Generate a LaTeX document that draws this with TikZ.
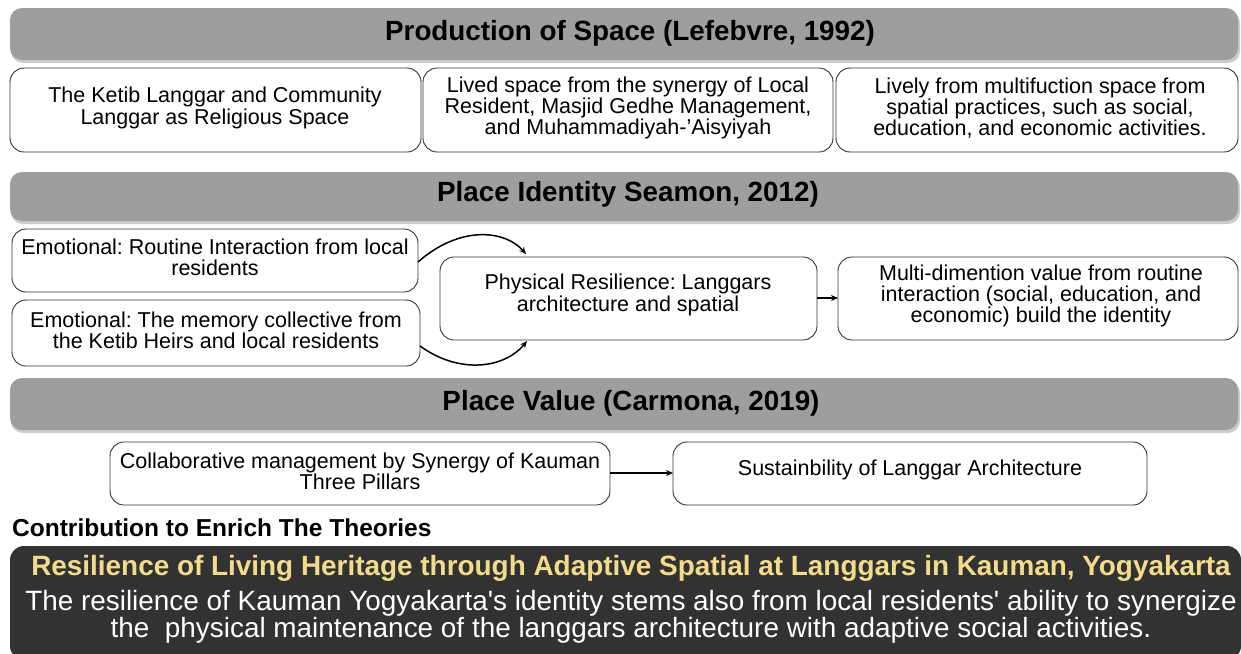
\documentclass[tikz,border=0pt]{standalone}
\usepackage{fontspec}
\setmainfont{Liberation Sans}[Ligatures=TeXOff]
\usetikzlibrary{arrows.meta}
\definecolor{banner}{HTML}{9E9E9E}
\definecolor{darkbox}{HTML}{323232}
\definecolor{yel}{HTML}{F2DC8C}
\begin{document}
\begin{tikzpicture}[x=1pt,y=-1pt,
  bannerbox/.style={fill=banner,draw=none,rounded corners=12pt},
  wbox/.style={draw=black!80,line width=0.9pt,fill=white,rounded corners=14pt},
  bannertext/.style={font=\fontsize{27.8}{28}\selectfont\bfseries\frenchspacing,text=black},
  bodytext/.style={font=\fontsize{21.5}{21.3}\selectfont\frenchspacing,align=center,text=black},
  conn/.style={-{Stealth[length=7pt,width=6pt]},line width=1.3pt,black}]
\useasboundingbox (0,0) rectangle (1241,653);
% banners
\fill[black!20,rounded corners=12pt] (11,11) rectangle (1240,63);
\path[bannerbox] (10,8) rectangle (1238,60);
\node[bannertext] (t1) at (630,33) {Production of Space (Lefebvre, 1992)};
\fill[black!20,rounded corners=12pt] (11,175) rectangle (1240,224);
\path[bannerbox] (10,172) rectangle (1238,221);
\node[bannertext] (t2) at (628,194) {Place Identity Seamon, 2012)};
\fill[black!20,rounded corners=12pt] (11,381) rectangle (1240,433);
\path[bannerbox] (10,378) rectangle (1238,430);
\node[bannertext] (t3) at (631,403) {Place Value (Carmona, 2019)};
% row 1
\path[wbox] (10,68) rectangle (421,152);
\node[bodytext] (a1) at (215,108) {The Ketib Langgar and Community\\Langgar as Religious Space};
\path[wbox] (423,68) rectangle (833,152);
\node[bodytext] (a2) at (628,108) {Lived space from the synergy of Local\\Resident, Masjid Gedhe Management,\\and Muhammadiyah-’Aisyiyah};
\path[wbox] (836,68) rectangle (1238,152);
\node[bodytext] (a3) at (1040,108) {Lively from multifuction space from\\spatial practices, such as social,\\education, and economic activities.};
% row 2
\path[wbox] (12,229) rectangle (418,292);
\node[bodytext] (e1) at (215,257) {Emotional: Routine Interaction from local\\residents};
\coordinate (e1r) at (418,262);
\path[wbox] (12,300) rectangle (420,366);
\node[bodytext] (e2) at (216,330) {Emotional: The memory collective from\\the Ketib Heirs and local residents};
\coordinate (e2r) at (420,346);
\path[wbox] (440,257) rectangle (817,340);
\node[bodytext] (p) at (628,295) {Physical Resilience: Langgars\\architecture and spatial};
\coordinate (pl) at (817,298);
\path[wbox] (838,257) rectangle (1238,340);
\node[bodytext] (m) at (1041,296) {Multi-dimention value from routine\\interaction (social, education, and\\economic) build the identity};
\coordinate (ml) at (838,298);
\coordinate (pt) at (526,254);
\coordinate (pb) at (527,341);
\draw[conn,line width=1.5pt] (e1r) .. controls (460,225) and (505,230) .. (pt);
\draw[conn,line width=1.5pt] (e2r) .. controls (460,375) and (505,368) .. (pb);
\draw[conn] (pl) -- (ml);
% row 3
\path[wbox] (110,442) rectangle (610,505);
\node[bodytext] (c) at (360,471) {Collaborative management by Synergy of Kauman\\Three Pillars};
\coordinate (cr) at (610,473);
\path[wbox] (673,442) rectangle (1147,505);
\node[bodytext] (s) at (910,470) {Sustainbility of Langgar Architecture};
\coordinate (sl) at (673,473);
\draw[conn,line width=2pt] (cr) -- (sl);
% contribution
\node[anchor=west,inner sep=0pt,font=\fontsize{24.5}{25}\selectfont\bfseries] (ct) at (12,528) {Contribution to Enrich The Theories};
\fill[darkbox,rounded corners=14pt] (10,546) rectangle (1241,660);
\node[font=\fontsize{27.9}{28}\selectfont\bfseries,text=yel] (r1) at (631,568) {Resilience of Living Heritage through Adaptive Spatial at Langgars in Kauman, Yogyakarta};
\node[font=\fontsize{27.9}{27}\selectfont,text=white,align=center] (r2) at (631,617) {The resilience of Kauman Yogyakarta's identity stems also from local residents' ability to synergize\\the\ \ physical maintenance of the langgars architecture with adaptive social activities.};
\end{tikzpicture}
\end{document}
